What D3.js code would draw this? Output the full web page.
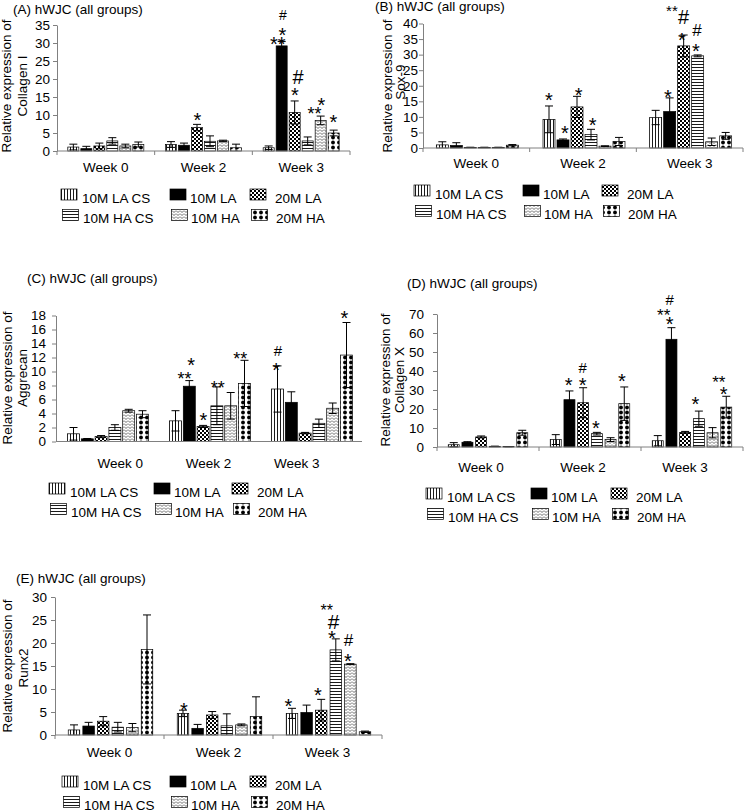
<!DOCTYPE html>
<html><head><meta charset="utf-8">
<script src="https://cdn.jsdelivr.net/npm/d3@7"></script>
<style>
body{margin:0;background:#fff;}
svg text{font-family:"Liberation Sans",Arial,sans-serif;fill:#000;}
</style></head><body>
<svg id="chart" width="744" height="811"></svg>
<script>
const weeks = ["Week 0","Week 2","Week 3"];
const seriesNames = ["10M LA CS","10M LA","20M LA","10M HA CS","10M HA","20M HA"];

// (A) Collagen I  — rows: weeks, columns: series
const colIMean = [[1.1,0.65,1.4,2.8,1.4,1.8],[1.8,1.6,6.5,2.7,2.8,0.9],[0.9,29.2,10.7,2.8,8.5,5.0]];
const colIErr  = [[0.8,0.65,0.8,0.9,0.5,0.7],[0.8,0.6,0.9,1.5,0.2,1.0],[0.5,1.2,3.2,1.1,1.2,0.8]];
const colITicks = [0,5,10,15,20,25,30,35];
// [week, series, text, lift, shift, font]
const colINotes = [[1,2,"*",9.4,0.3,20],[2,1,"**",2.3,-4,20],[2,1,"*",11.6,0.8,20],[2,1,"#",26.6,1.3,14],
  [2,2,"*",11,0.3,20],[2,2,"#",24,3.3,20],[2,4,"**",7,-6.2,18],[2,4,"*",16,0.8,20],[2,5,"*",13,-0.3,20]];

// (B) Sox-9
const soxMean = [[1.0,0.8,0.2,0.2,0.2,0.9],[9.2,2.6,13.2,4.3,0.6,2.1],[9.8,11.7,32.8,29.6,2.0,3.9]];
const soxErr  = [[1.0,0.9,0.05,0.05,0.05,0.2],[4.3,0.3,3.4,1.7,0.1,1.3],[2.3,4.4,3.5,0.3,1.2,1.1]];
const soxTicks = [0,5,10,15,20,25,30,35,40];
const soxNotes = [[1,0,"*",11,0,20],[1,1,"*",11,2,20],[1,2,"*",5.6,1.7,20],[1,3,"*",8.6,1.7,20],
  [2,1,"*",5.2,-1.7,20],[2,2,"*",0,-1.7,20],[2,2,"#",18.3,0,20],[2,2,"**",27.7,-11.7,15],
  [2,3,"*",8.3,-1.7,20],[2,3,"#",25,-0.7,17]];

// (C) Aggrecan
const aggMean = [[1.1,0.38,0.7,2.0,4.4,3.9],[2.95,7.9,2.15,5.1,5.1,8.3],[7.5,5.6,1.2,2.6,4.75,12.35]];
const aggErr  = [[0.9,0.05,0.15,0.4,0.2,0.5],[1.45,0.8,0.15,2.7,1.9,3.3],[3.3,1.5,0.1,0.6,0.75,4.65]];
const aggTicks = [0,2,4,6,8,10,12,14,16,18];
const aggNotes = [[1,1,"**",5.6,-4.8,18],[1,1,"*",20.6,1.9,20],[1,2,"*",10.4,0.4,20],[1,3,"**",3,0.9,18],
  [1,5,"**",5.3,-4.3,18],[2,0,"*",1,-1.3,20],[2,0,"#",15.2,0.3,15],[2,5,"*",9.2,-2,20]];

// (D) Collagen X
const colXMean = [[1.2,2.5,5.3,0.35,0.2,7.5],[3.9,24.9,23.3,7.0,3.9,22.8],[3.3,56.7,7.7,14.9,7.5,21.0]];
const colXErr  = [[1.1,0.3,0.5,0.1,0.05,1.3],[2.6,4.6,7.9,0.7,1.0,8.8],[2.7,6.1,0.5,4.0,2.7,5.7]];
const colXTicks = [0,10,20,30,40,50,60,70];
const colXNotes = [[1,1,"*",11,-0.8,20],[1,2,"*",7.7,-0.5,20],[1,2,"#",20.4,-0.5,15],[1,3,"*",9,-0.9,20],
  [1,5,"*",10.3,-2.3,20],[2,1,"*",8.4,-1.8,20],[2,1,"**",16.7,-7.8,17],[2,1,"#",28.4,-1.8,15],
  [2,3,"*",11.5,-3.5,20],[2,5,"*",7,-2.5,20],[2,5,"**",18,-7.5,17]];

// (E) Runx2
const runxMean = [[1.1,1.95,3.0,1.7,1.6,18.6],[4.7,1.45,4.35,2.0,2.2,4.0],[4.7,4.9,5.4,18.5,15.4,0.7]];
const runxErr  = [[1.1,0.8,1.0,1.05,0.9,7.5],[0.7,0.85,0.75,2.6,0.2,4.3],[1.1,1.6,2.35,2.4,0.1,0.15]];
const runxTicks = [0,5,10,15,20,25,30];
const runxNotes = [[1,0,"*",4.5,0.8,20],[2,0,"*",6.6,-3.5,20],[2,2,"*",9.3,-3.4,20],[2,3,"*",5,-4,20],
  [2,3,"#",17.2,-2.3,21],[2,3,"**",32,-9,16],[2,4,"*",7.7,-2.6,20],[2,4,"#",23.7,-1.9,17]];

const svg = d3.select("#chart");
const defs = svg.append("defs");
function pat(id, w, h, draw){
  const p = defs.append("pattern").attr("id",id).attr("patternUnits","userSpaceOnUse").attr("width",w).attr("height",h);
  p.append("rect").attr("width",w).attr("height",h).attr("fill","#fff");
  draw(p);
}
pat("vert",3,3,p=>p.append("line").attr("x1",1.5).attr("x2",1.5).attr("y1",0).attr("y2",3).attr("stroke","#000").attr("stroke-width",0.9));
pat("horiz",3,3,p=>p.append("line").attr("y1",1.5).attr("y2",1.5).attr("x1",0).attr("x2",3).attr("stroke","#000").attr("stroke-width",0.9));
pat("check",4,4,p=>{p.append("rect").attr("width",2).attr("height",2).attr("fill","#000");
  p.append("rect").attr("x",2).attr("y",2).attr("width",2).attr("height",2).attr("fill","#000");});
pat("wave",4,3,p=>p.append("path").attr("d","M0,0.5L2,2.5L4,0.5").attr("fill","none").attr("stroke","#444").attr("stroke-width",0.8));
pat("dots",6,5,p=>p.append("circle").attr("cx",3).attr("cy",2.5).attr("r",1.9).attr("fill","#000"));
const fills = ["url(#vert)","#000","url(#check)","url(#horiz)","url(#wave)","url(#dots)"];

const panels = [
  {title:"(A) hWJC (all groups)", tx:13, ty:14, ylab:["Relative expression of","Collagen I"], lx:[11,27], ly:[86,86],
   mean:colIMean, err:colIErr, ticks:colITicks, notes:colINotes,
   xr:[57,350], yr:[151,25], step:13, bw:11, off:0, tp:3, xp:11, xt:true,
   leg:[61,189], lc:[0,109,189]},
  {title:"(B) hWJC (all groups)", tx:375, ty:11, ylab:["Relative expression of","Sox-9"], lx:[392,405], ly:[86,82],
   mean:soxMean, err:soxErr, ticks:soxTicks, notes:soxNotes,
   xr:[423,743], yr:[148,23.5], step:14, bw:12, off:1, tp:1, xp:10.4, xt:true,
   leg:[414,185], lc:[0,109,188]},
  {title:"(C) hWJC (all groups)", tx:27, ty:283, ylab:["Relative expression of","Aggrecan"], lx:[12,27], ly:[378,378],
   mean:aggMean, err:aggErr, ticks:aggTicks, notes:aggNotes,
   xr:[56,362], yr:[441.5,315.5], step:13.8, bw:12, off:1, tp:6, xp:17, xt:false, lr:[76,341],
   leg:[49,483], lc:[0,105,183]},
  {title:"(D) hWJC (all groups)", tx:407, ty:288, ylab:["Relative expression of","Collagen X"], lx:[390,404], ly:[380,380],
   mean:colXMean, err:colXErr, ticks:colXTicks, notes:colXNotes,
   xr:[437,743], yr:[447,314], step:13.7, bw:11, off:0, tp:9, xp:15.4, xt:true, lr:[430,736],
   leg:[426,488], lc:[0,105,185]},
  {title:"(E) hWJC (all groups)", tx:16, ty:583, ylab:["Relative expression of","Runx2"], lx:[12,28], ly:[666,668],
   mean:runxMean, err:runxErr, ticks:runxTicks, notes:runxNotes,
   xr:[55,382], yr:[735,597], step:14.6, bw:11.5, off:1, tp:4, xp:12, xt:true,
   leg:[62,776], lc:[0,108,188]}
];

const axisColor = "#808080";
const FS = 13.5;

panels.forEach(p => {
  const g = svg.append("g");
  const y = d3.scaleLinear().domain([0, d3.max(p.ticks)]).range(p.yr);
  const x0 = d3.scaleBand().domain(weeks).range(p.xr).padding(0);
  const span = 5*p.step + p.bw;
  const m = (x0.bandwidth() - span)/2 + p.off;
  const x1 = d3.scaleBand().domain(d3.range(6)).range([m, m+span]).paddingInner((p.step-p.bw)/p.step).paddingOuter(0);

  g.append("text").attr("x",p.tx).attr("y",p.ty).attr("font-size",FS).text(p.title);
  p.ylab.forEach((t,i)=>{
    g.append("text").attr("transform",`translate(${p.lx[i]},${p.ly[i]}) rotate(-90)`)
      .attr("text-anchor","middle").attr("font-size",FS).text(t);
  });

  const cells = [];
  weeks.forEach((w,wi)=>seriesNames.forEach((s,si)=>cells.push({w,wi,si,v:p.mean[wi][si],e:p.err[wi][si]})));
  g.selectAll("rect.bar").data(cells).join("rect").attr("class","bar")
    .attr("x",d=>x0(d.w)+x1(d.si)).attr("width",x1.bandwidth())
    .attr("y",d=>y(d.v)).attr("height",d=>y(0)-y(d.v))
    .attr("fill",d=>fills[d.si]).attr("stroke","#000").attr("stroke-width",0.7);

  const cap = 4;
  const eg = g.append("g").attr("stroke","#000").attr("stroke-width",1);
  cells.forEach(d=>{
    const cx = x0(d.w)+x1(d.si)+x1.bandwidth()/2;
    const lo = Math.max(0, d.v-d.e), hi = d.v+d.e;
    eg.append("line").attr("x1",cx).attr("x2",cx).attr("y1",y(lo)).attr("y2",y(hi));
    eg.append("line").attr("x1",cx-cap).attr("x2",cx+cap).attr("y1",y(hi)).attr("y2",y(hi));
    if (lo > 0) eg.append("line").attr("x1",cx-cap).attr("x2",cx+cap).attr("y1",y(lo)).attr("y2",y(lo));
  });

  const ya = g.append("g").attr("transform",`translate(${p.xr[0]},0)`)
    .call(d3.axisLeft(y).tickValues(p.ticks).tickSize(4).tickSizeOuter(0).tickPadding(p.tp).tickFormat(d3.format("d")));
  ya.select(".domain").attr("stroke",axisColor);
  ya.selectAll(".tick line").attr("stroke",axisColor);
  ya.selectAll(".tick text").attr("font-size",FS).attr("font-family","Liberation Sans, Arial, sans-serif").attr("fill","#000");

  g.append("line").attr("x1",p.xr[0]).attr("x2",p.xr[1]).attr("y1",y(0)).attr("y2",y(0)).attr("stroke",axisColor);
  if (p.xt) {
    const bounds = weeks.map(w=>x0(w)).concat([p.xr[1]]);
    g.selectAll("line.xt").data(bounds).join("line").attr("class","xt")
      .attr("x1",d=>d).attr("x2",d=>d).attr("y1",y(0)).attr("y2",y(0)+4).attr("stroke",axisColor);
  }
  const xl = p.lr ? d3.scaleBand().domain(weeks).range(p.lr) : x0;
  const xa = g.append("g").attr("transform",`translate(0,${y(0)})`)
    .call(d3.axisBottom(xl).tickSize(0).tickPadding(p.xp));
  xa.select(".domain").remove();
  xa.selectAll(".tick text").attr("font-size",FS).attr("font-family","Liberation Sans, Arial, sans-serif").attr("fill","#000");

  p.notes.forEach(([wi,si,t,lift,shift,fs])=>{
    const w = weeks[wi];
    const cx = x0(w)+x1(si)+x1.bandwidth()/2 + shift;
    const yTop = y(p.mean[wi][si]+p.err[wi][si]);
    const off = t.includes("#") ? 0.36*fs : 0.58*fs;
    g.append("text").attr("x",cx).attr("y",yTop - lift + off).attr("text-anchor","middle")
      .attr("font-size",fs).text(t);
  });

  const [lx0, ly0] = p.leg;
  const textOff = [21,20,25];
  seriesNames.forEach((s,i)=>{
    const col = i%3, row = Math.floor(i/3);
    const sx = lx0 + p.lc[col] + (row ? 1.5 : 0);
    const sy = ly0 + row*20.5;
    g.append("rect").attr("x",sx).attr("y",sy).attr("width",16).attr("height",11)
      .attr("fill",fills[i]).attr("stroke","#000").attr("stroke-width",0.7);
    g.append("text").attr("x",lx0 + p.lc[col] + textOff[col] + (row?1:0))
      .attr("y",ly0 + (row ? 33.5 : 14))
      .attr("font-size",FS).text(s);
  });
});
</script>
</body></html>
